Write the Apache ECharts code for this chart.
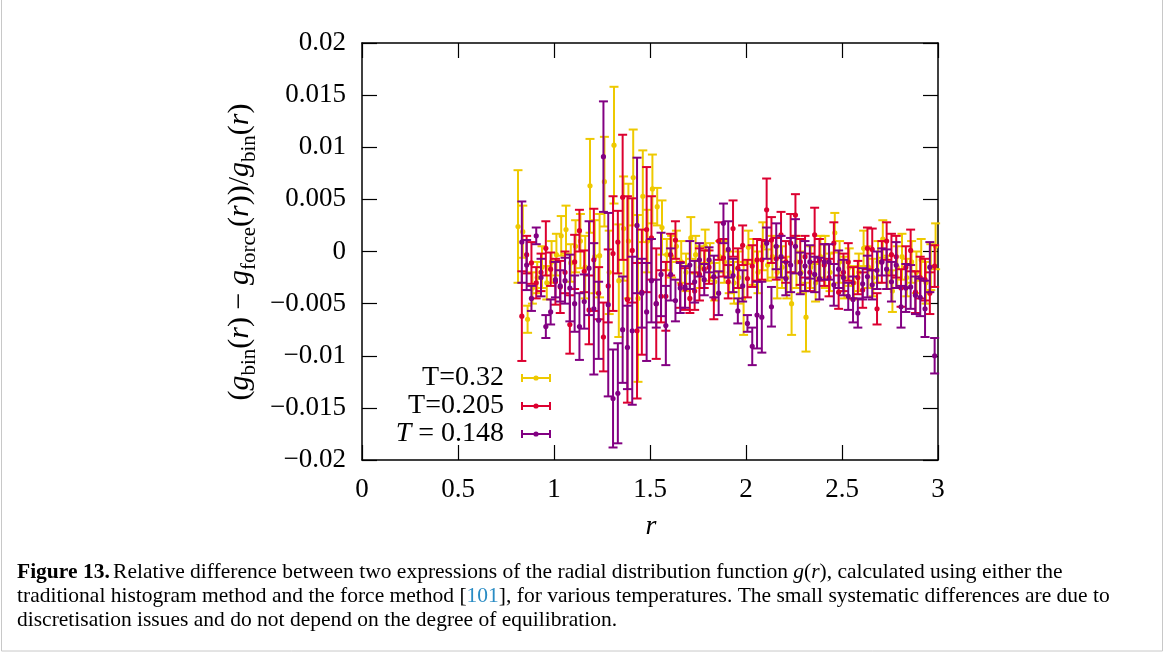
<!DOCTYPE html>
<html>
<head>
<meta charset="utf-8">
<script src="https://cdn.jsdelivr.net/npm/echarts@6/dist/echarts.min.js"></script>
<style>
  html, body { margin: 0; padding: 0; background: #fff; }
  #chart { width: 1166px; height: 655px; }
</style>
</head>
<body>
<div id="chart"></div>
<script>
// r positions (T=0.32 bins are shifted relative to the other two runs)
const rYellow = [0.8125, 0.8375, 0.8625, 0.8875, 0.9125, 0.9375, 0.9625, 0.9875, 1.0125, 1.0375,
  1.0625, 1.0875, 1.1125, 1.1375, 1.1625, 1.1875, 1.2125, 1.2375, 1.2625, 1.2875,
  1.3125, 1.3375, 1.3625, 1.3875, 1.4125, 1.4375, 1.4625, 1.4875, 1.5125, 1.5375,
  1.5625, 1.5875, 1.6125, 1.6375, 1.6625, 1.6875, 1.7125, 1.7375, 1.7625, 1.7875,
  1.8125, 1.8375, 1.8625, 1.8875, 1.9125, 1.9375, 1.9625, 1.9875, 2.0125, 2.0375,
  2.0625, 2.0875, 2.1125, 2.1375, 2.1625, 2.1875, 2.2125, 2.2375, 2.2625, 2.2875,
  2.3125, 2.3375, 2.3625, 2.3875, 2.4125, 2.4375, 2.4625, 2.4875, 2.5125, 2.5375,
  2.5625, 2.5875, 2.6125, 2.6375, 2.6625, 2.6875, 2.7125, 2.7375, 2.7625, 2.7875,
  2.8125, 2.8375, 2.8625, 2.8875, 2.9125, 2.9375, 2.9625, 2.9875]
const rOther = [0.8325, 0.8575, 0.8825, 0.9075, 0.9325, 0.9575, 0.9825, 1.0075, 1.0325, 1.0575,
  1.0825, 1.1075, 1.1325, 1.1575, 1.1825, 1.2075, 1.2325, 1.2575, 1.2825, 1.3075,
  1.3325, 1.3575, 1.3825, 1.4075, 1.4325, 1.4575, 1.4825, 1.5075, 1.5325, 1.5575,
  1.5825, 1.6075, 1.6325, 1.6575, 1.6825, 1.7075, 1.7325, 1.7575, 1.7825, 1.8075,
  1.8325, 1.8575, 1.8825, 1.9075, 1.9325, 1.9575, 1.9825, 2.0075, 2.0325, 2.0575,
  2.0825, 2.1075, 2.1325, 2.1575, 2.1825, 2.2075, 2.2325, 2.2575, 2.2825, 2.3075,
  2.3325, 2.3575, 2.3825, 2.4075, 2.4325, 2.4575, 2.4825, 2.5075, 2.5325, 2.5575,
  2.5825, 2.6075, 2.6325, 2.6575, 2.6825, 2.7075, 2.7325, 2.7575, 2.7825, 2.8075,
  2.8325, 2.8575, 2.8825, 2.9075, 2.9325, 2.9575, 2.9825]

// T = 0.32
const valT032 = [0.0024, 0.0019, -0.0065, -0.0035, -0.0025, -0.0015, -0.0030, -0.0010, -0.0003, 0.0015,
  0.0021, -0.0011, 0.0005, 0.0010, -0.0015, 0.0063, -0.0005, -0.0004, 0.0067, -0.0020,
  0.0102, -0.0028, 0.0022, 0.0010, 0.0071, -0.0045, 0.0053, 0.0010, 0.0060, 0.0043,
  0.0023, -0.0003, -0.0005, 0.0005, -0.0010, -0.0020, 0.0013, -0.0003, -0.0015, 0.0005,
  -0.0010, -0.0029, -0.0005, -0.0010, -0.0020, -0.0030, -0.0025, -0.0045, 0.0004, -0.0010,
  -0.0020, 0.0005, -0.0013, -0.0005, -0.0020, -0.0015, -0.0025, -0.0050, -0.0010, -0.0020,
  -0.0063, -0.0015, -0.0030, -0.0005, -0.0010, -0.0020, 0.0018, -0.0010, -0.0025, -0.0015,
  -0.0030, -0.0020, 0.0003, -0.0015, -0.0025, -0.0010, 0.0012, -0.0020, -0.0038, -0.0015,
  -0.0005, -0.0025, -0.0010, -0.0020, -0.0008, -0.0030, -0.0015, 0.0005]
const errT032 = [0.0054, 0.0025, 0.0013, 0.0015, 0.0015, 0.0020, 0.0016, 0.0020, 0.0020, 0.0019,
  0.0023, 0.0018, 0.0025, 0.0026, 0.0030, 0.0045, 0.0035, 0.0040, 0.0043, 0.0040,
  0.0056, 0.0054, 0.0050, 0.0055, 0.0046, 0.0080, 0.0044, 0.0030, 0.0033, 0.0018,
  0.0026, 0.0015, 0.0020, 0.0015, 0.0020, 0.0018, 0.0020, 0.0018, 0.0020, 0.0016,
  0.0018, 0.0018, 0.0015, 0.0020, 0.0020, 0.0020, 0.0025, 0.0035, 0.0016, 0.0022,
  0.0020, 0.0023, 0.0015, 0.0020, 0.0025, 0.0020, 0.0020, 0.0030, 0.0025, 0.0020,
  0.0033, 0.0020, 0.0018, 0.0020, 0.0025, 0.0018, 0.0019, 0.0020, 0.0020, 0.0018,
  0.0016, 0.0018, 0.0017, 0.0020, 0.0018, 0.0020, 0.0018, 0.0016, 0.0020, 0.0020,
  0.0022, 0.0018, 0.0020, 0.0020, 0.0020, 0.0020, 0.0022, 0.0022]

// T = 0.205
const valT0205 = [-0.0062, -0.0003, -0.0011, -0.0030, -0.0020, 0.0003, -0.0017, -0.0029, -0.0034, -0.0020,
  -0.0070, -0.0010, 0.0020, -0.0019, -0.0056, -0.0008, -0.0040, -0.0082, -0.0033, -0.0002,
  0.0009, 0.0052, -0.0046, 0.0001, -0.0076, -0.0039, 0.0021, 0.0013, -0.0050, -0.0043,
  -0.0043, -0.0003, 0.0011, -0.0032, -0.0036, -0.0045, -0.0038, -0.0022, -0.0017, -0.0015,
  -0.0045, 0.0010, -0.0006, -0.0029, 0.0022, -0.0016, 0.0006, -0.0026, -0.0014, -0.0008,
  -0.0008, 0.0040, 0.0011, -0.0007, 0.0016, -0.0010, 0.0008, 0.0035, -0.0010, -0.0005,
  -0.0020, 0.0016, -0.0008, -0.0013, -0.0025, 0.0008, -0.0039, -0.0020, -0.0010, -0.0030,
  -0.0025, -0.0037, 0.0003, 0.0002, -0.0055, -0.0010, 0.0010, -0.0003, -0.0005, -0.0035,
  -0.0015, 0.0001, -0.0039, -0.0025, -0.0027, -0.0040, -0.0014]
const errT0205 = [0.0043, 0.0018, 0.0020, 0.0015, 0.0018, 0.0026, 0.0016, 0.0022, 0.0025, 0.0020,
  0.0028, 0.0026, 0.0020, 0.0020, 0.0033, 0.0049, 0.0025, 0.0033, 0.0035, 0.0055,
  0.0030, 0.0060, 0.0099, 0.0050, 0.0065, 0.0060, 0.0060, 0.0040, 0.0053, 0.0025,
  0.0033, 0.0020, 0.0018, 0.0022, 0.0020, 0.0014, 0.0018, 0.0025, 0.0018, 0.0016,
  0.0020, 0.0018, 0.0018, 0.0016, 0.0027, 0.0019, 0.0019, 0.0018, 0.0020, 0.0020,
  0.0019, 0.0030, 0.0022, 0.0020, 0.0022, 0.0020, 0.0028, 0.0020, 0.0022, 0.0020,
  0.0018, 0.0026, 0.0020, 0.0020, 0.0018, 0.0020, 0.0016, 0.0018, 0.0018, 0.0015,
  0.0016, 0.0017, 0.0020, 0.0020, 0.0015, 0.0020, 0.0018, 0.0020, 0.0020, 0.0018,
  0.0020, 0.0020, 0.0020, 0.0020, 0.0020, 0.0020, 0.0020]

// T = 0.148
const valT0148 = [0.0009, -0.0013, -0.0045, 0.0015, -0.0025, -0.0072, -0.0058, -0.0027, -0.0033, -0.0028,
  -0.0035, -0.0050, -0.0072, -0.0048, -0.0016, -0.0055, -0.0066, 0.0091, -0.0051, -0.0141,
  -0.0136, -0.0075, -0.0092, -0.0076, 0.0025, -0.0040, -0.0058, -0.0028, -0.0050, -0.0022,
  -0.0071, -0.0022, -0.0047, -0.0035, -0.0034, -0.0013, -0.0029, -0.0008, -0.0027, -0.0008,
  -0.0024, -0.0040, 0.0027, 0.0002, -0.0023, -0.0057, -0.0033, -0.0069, -0.0091, -0.0061,
  -0.0063, 0.0008, -0.0053, 0.0005, -0.0005, -0.0026, -0.0013, 0.0005, -0.0021, -0.0014,
  -0.0010, -0.0022, -0.0026, -0.0010, -0.0010, -0.0032, -0.0017, -0.0025, -0.0043, -0.0046,
  -0.0059, -0.0031, -0.0024, -0.0032, -0.0018, -0.0010, -0.0017, -0.0029, -0.0013, -0.0053,
  -0.0035, -0.0034, -0.0042, -0.0044, -0.0055, -0.0015, -0.0100]
const errT0148 = [0.0039, 0.0024, 0.0012, 0.0008, 0.0018, 0.0011, 0.0012, 0.0017, 0.0015, 0.0022,
  0.0032, 0.0027, 0.0032, 0.0026, 0.0045, 0.0063, 0.0037, 0.0053, 0.0088, 0.0047,
  0.0048, 0.0051, 0.0040, 0.0071, 0.0065, 0.0033, 0.0047, 0.0040, 0.0023, 0.0040,
  0.0038, 0.0025, 0.0020, 0.0024, 0.0020, 0.0023, 0.0020, 0.0016, 0.0015, 0.0012,
  0.0020, 0.0021, 0.0019, 0.0027, 0.0016, 0.0012, 0.0015, 0.0008, 0.0018, 0.0032,
  0.0034, 0.0015, 0.0019, 0.0022, 0.0020, 0.0016, 0.0026, 0.0026, 0.0020, 0.0024,
  0.0016, 0.0017, 0.0020, 0.0017, 0.0017, 0.0020, 0.0018, 0.0017, 0.0013, 0.0022,
  0.0014, 0.0015, 0.0020, 0.0014, 0.0018, 0.0013, 0.0019, 0.0019, 0.0022, 0.0020,
  0.0023, 0.0021, 0.0018, 0.0018, 0.0027, 0.0024, 0.0017]

const xTickLabels = ['0', '0.5', '1', '1.5', '2', '2.5', '3']
const yTickLabels = ['\u22120.02', '\u22120.015', '\u22120.01', '\u22120.005', '0', '0.005', '0.01', '0.015', '0.02']

const YELLOW = '#eec900'
const RED = '#dc0030'
const PURPLE = '#820082'
const SERIF = '"Liberation Serif", "DejaVu Serif", serif'

const zip = (r, v, e) => r.map((x, i) => [x, v[i], e[i]])

function errorBars(color) {
  return function (params, api) {
    const r = api.value(0)
    const v = api.value(1)
    const e = api.value(2)
    const p = api.coord([r, v])
    const top = api.coord([r, v + e])[1]
    const bot = api.coord([r, v - e])[1]
    const cap = 4.5
    const st = { stroke: color, lineWidth: 2 }
    return {
      type: 'group',
      children: [
        { type: 'line', shape: { x1: p[0], y1: top, x2: p[0], y2: bot }, style: st },
        { type: 'line', shape: { x1: p[0] - cap, y1: top, x2: p[0] + cap, y2: top }, style: st },
        { type: 'line', shape: { x1: p[0] - cap, y1: bot, x2: p[0] + cap, y2: bot }, style: st },
        { type: 'circle', shape: { cx: p[0], cy: p[1], r: 2.6 }, style: { fill: color } },
      ],
    }
  }
}

const legendRich = {
  n: { fontFamily: SERIF, fontSize: 28, fill: '#000' },
  i: { fontFamily: SERIF, fontSize: 28, fontStyle: 'italic', fill: '#000' },
}

function legendEntry(y, color, rich) {
  const st = { stroke: color, lineWidth: 2 }
  return [
    { type: 'text', x: 504, y: y, style: { text: rich, rich: legendRich, align: 'right', verticalAlign: 'middle' } },
    { type: 'line', shape: { x1: 522, y1: y, x2: 550, y2: y }, style: st },
    { type: 'line', shape: { x1: 522, y1: y - 4, x2: 522, y2: y + 4 }, style: st },
    { type: 'line', shape: { x1: 550, y1: y - 4, x2: 550, y2: y + 4 }, style: st },
    { type: 'circle', shape: { cx: 536, cy: y, r: 2.6 }, style: { fill: color } },
  ]
}

const axisRich = {
  n: { fontFamily: SERIF, fontSize: 30, lineHeight: 40, fill: '#000' },
  i: { fontFamily: SERIF, fontSize: 30, fontStyle: 'italic', lineHeight: 40, fill: '#000' },
  s: { fontFamily: SERIF, fontSize: 21, lineHeight: 40, verticalAlign: 'bottom', fill: '#000' },
}

const capRich = {
  b: { fontFamily: SERIF, fontSize: 21.5, fontWeight: 'bold', fill: '#000' },
  n: { fontFamily: SERIF, fontSize: 21.5, fill: '#000' },
  i: { fontFamily: SERIF, fontSize: 21.5, fontStyle: 'italic', fill: '#000' },
  l: { fontFamily: SERIF, fontSize: 21.5, fill: '#2a8cc4' },
}

const chart = echarts.init(document.getElementById('chart'), null, { renderer: 'canvas' })

const axisCommon = {
  type: 'value',
  axisLine: { show: true, onZero: false, lineStyle: { color: '#000', width: 1.5 } },
  axisTick: { show: true, inside: true, length: 15, lineStyle: { color: '#000', width: 1.2 } },
  splitLine: { show: false },
}

const option = {
  animation: false,
  backgroundColor: '#fff',
  grid: { left: 362, right: 228, top: 43, bottom: 195 },
  xAxis: [
    {
      ...axisCommon,
      min: 0, max: 3, interval: 0.5,
      position: 'bottom',
      axisLabel: {
        margin: 16, color: '#000', fontFamily: SERIF, fontSize: 27,
        formatter: (v) => xTickLabels[Math.round(v / 0.5)],
      },
    },
    {
      ...axisCommon,
      min: 0, max: 3, interval: 0.5,
      position: 'top',
      axisLabel: { show: false },
    },
  ],
  yAxis: [
    {
      ...axisCommon,
      min: -0.02, max: 0.02, interval: 0.005,
      position: 'left',
      axisLabel: {
        margin: 16, color: '#000', fontFamily: SERIF, fontSize: 27,
        formatter: (v) => yTickLabels[Math.round(v / 0.005) + 4],
      },
    },
    {
      ...axisCommon,
      min: -0.02, max: 0.02, interval: 0.005,
      position: 'right',
      axisLabel: { show: false },
    },
  ],
  series: [
    { name: 'T=0.32', type: 'custom', renderItem: errorBars(YELLOW), data: zip(rYellow, valT032, errT032), encode: { x: 0, y: 1 }, silent: true },
    { name: 'T=0.205', type: 'custom', renderItem: errorBars(RED), data: zip(rOther, valT0205, errT0205), encode: { x: 0, y: 1 }, silent: true },
    { name: 'T=0.148', type: 'custom', renderItem: errorBars(PURPLE), data: zip(rOther, valT0148, errT0148), encode: { x: 0, y: 1 }, silent: true },
  ],
  graphic: [
    // figure frame
    { type: 'rect', shape: { x: 1.5, y: -2, width: 1161, height: 653 }, style: { fill: null, stroke: '#c8c8c8', lineWidth: 1 }, silent: true },
    // y axis title
    {
      type: 'text', x: 240, y: 252, rotation: Math.PI / 2,
      style: {
        text: '{n|(}{i|g}{s|bin}{n|(}{i|r}{n|) \u2212 }{i|g}{s|force}{n|(}{i|r}{n|))/}{i|g}{s|bin}{n|(}{i|r}{n|)}',
        rich: axisRich, align: 'center', verticalAlign: 'middle',
      },
    },
    // x axis title
    { type: 'text', x: 651, y: 527, style: { text: 'r', font: 'italic 28px ' + SERIF, fill: '#000', align: 'center', verticalAlign: 'middle' } },
    ...legendEntry(378, YELLOW, '{n|T=0.32}'),
    ...legendEntry(406, RED, '{n|T=0.205}'),
    ...legendEntry(434, PURPLE, '{i|T}{n| = 0.148}'),
    // caption
    { type: 'text', x: 17, y: 572, style: { text: '{b|Figure 13.} {n|Relative difference between two expressions of the radial distribution function }{i|g}{n|(}{i|r}{n|), calculated using either the}', rich: capRich, verticalAlign: 'middle' } },
    { type: 'text', x: 17, y: 596, style: { text: '{n|traditional histogram method and the force method [}{l|101}{n|], for various temperatures. The small systematic differences are due to}', rich: capRich, verticalAlign: 'middle' } },
    { type: 'text', x: 17, y: 620, style: { text: '{n|discretisation issues and do not depend on the degree of equilibration.}', rich: capRich, verticalAlign: 'middle' } },
  ],
}

chart.setOption(option)
</script>
</body>
</html>
